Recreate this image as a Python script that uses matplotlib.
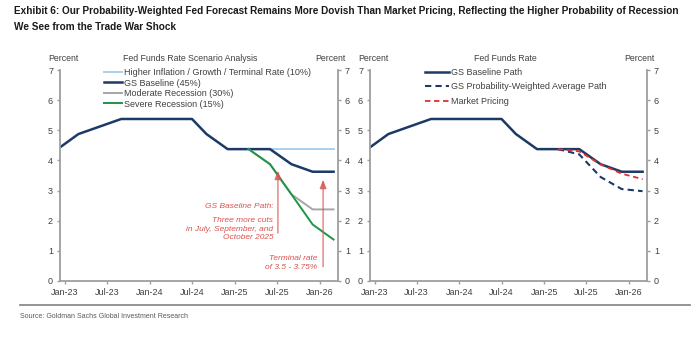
import matplotlib
matplotlib.use("Agg")
import matplotlib.pyplot as plt
import pandas as pd

plt.rcParams['font.family'] = ['Liberation Sans', 'DejaVu Sans']

# --- data ---
base_dates = ['2022-12-15', '2023-03-01', '2023-06-01', '2023-09-01', '2024-07-01',
              '2024-09-01', '2024-12-01', '2025-03-01', '2025-06-01', '2025-09-01',
              '2025-12-01', '2026-03-01']
gs_baseline = [4.45, 4.875, 5.125, 5.375, 5.375, 4.875, 4.375, 4.375, 4.375, 3.875, 3.625, 3.625]

scen_dates = ['2025-03-01', '2025-06-01', '2025-09-01', '2025-12-01', '2026-03-01']
higher_infl = [4.375, 4.375, 4.375, 4.375, 4.375]
moderate_rec = [4.375, 3.875, 2.875, 2.375, 2.375]
severe_rec = [4.375, 3.875, 2.875, 1.875, 1.375]

prob_weighted = [4.375, 4.2, 3.45, 3.05, 2.98]
market_pricing = [4.375, 4.3, 3.87, 3.56, 3.38]

tick_dates = ['2023-01-01', '2023-07-01', '2024-01-01', '2024-07-01',
              '2025-01-01', '2025-07-01', '2026-01-01']
tick_labels = ['Jan-23', 'Jul-23', 'Jan-24', 'Jul-24', 'Jan-25', 'Jul-25', 'Jan-26']

bd = pd.to_datetime(base_dates)
sd = pd.to_datetime(scen_dates)

NAVY = '#1b3a66'
LBLUE = '#a9d0ee'
GRAY = '#a6a6a6'
GREEN = '#1f9447'
RED = '#e0302a'
ANN = '#d9534f'
AX = '#9e9e9e'
TXT = '#404040'

fig = plt.figure(figsize=(7, 3.4), dpi=100)


def style(ax, title, title_x):
    ax.set_xlim(pd.Timestamp('2022-12-12'), pd.Timestamp('2026-03-20'))
    ax.set_ylim(0, 7)
    ax.set_yticks(range(0, 8))
    ax.set_xticks(pd.to_datetime(tick_dates))
    ax.set_xticklabels(tick_labels)
    ax.spines['top'].set_visible(False)
    for s in ('left', 'right', 'bottom'):
        ax.spines[s].set_color(AX)
        ax.spines[s].set_linewidth(1.3)
    ax.tick_params(axis='both', colors=AX, labelcolor=TXT, labelsize=6.5,
                   length=2.5, width=1, pad=2.5)
    ax.tick_params(axis='y', right=True, labelright=True)
    w = ax.get_position().width * 700
    ax.text(3 / w, 1.035, 'Percent', transform=ax.transAxes, ha='center',
            va='bottom', fontsize=6.3, color=TXT)
    ax.text(1 - 8 / w, 1.035, 'Percent', transform=ax.transAxes, ha='center',
            va='bottom', fontsize=6.3, color=TXT)
    ax.text(title_x, 1.035, title, transform=ax.transAxes, ha='center',
            va='bottom', fontsize=6.3, color=TXT)


# left panel: scenarios
ax1 = fig.add_axes([60 / 700, 59 / 340, 278 / 700, 211 / 340])
ax1.plot(sd[1:], higher_infl[1:], color=LBLUE, lw=1.4,
         label='Higher Inflation / Growth / Terminal Rate (10%)')
ax1.plot(bd, gs_baseline, color=NAVY, lw=1.8, label='GS Baseline (45%)')
ax1.plot(sd, moderate_rec, color=GRAY, lw=1.4, label='Moderate Recession (30%)')
ax1.plot(sd, severe_rec, color=GREEN, lw=1.4, label='Severe Recession (15%)')
style(ax1, 'Fed Funds Rate Scenario Analysis', 0.47)
ax1.legend(loc='upper left', bbox_to_anchor=(0.14, 1.035), frameon=False,
           fontsize=6.5, handlelength=2.0, handletextpad=0.15,
           labelspacing=0.17, borderaxespad=0.2, labelcolor=TXT)

arrow_kw = dict(arrowstyle='-|>,head_length=0.5,head_width=0.2',
                color=ANN, lw=1.0, alpha=0.75)
ax1.annotate('', xy=(pd.Timestamp('2025-07-05'), 3.75),
             xytext=(pd.Timestamp('2025-07-05'), 1.5), arrowprops=arrow_kw)
ax1.annotate('', xy=(pd.Timestamp('2026-01-15'), 3.45),
             xytext=(pd.Timestamp('2026-01-15'), 0.38), arrowprops=arrow_kw)
ax1.text(pd.Timestamp('2025-06-15'), 2.47, 'GS Baseline Path:', ha='right',
         va='center', fontsize=6, style='italic', color=ANN)
ax1.text(pd.Timestamp('2025-06-15'), 1.72,
         'Three more cuts\nin July, September, and\nOctober 2025', ha='right',
         va='center', fontsize=6, style='italic', color=ANN, linespacing=1.3)
ax1.text(pd.Timestamp('2025-12-20'), 0.6, 'Terminal rate\nof 3.5 - 3.75%',
         ha='right', va='center', fontsize=6, style='italic', color=ANN,
         linespacing=1.3)

# right panel: fed funds rate paths
ax2 = fig.add_axes([370 / 700, 59 / 340, 277 / 700, 211 / 340])
ax2.plot(bd, gs_baseline, color=NAVY, lw=1.8, label='GS Baseline Path')
ax2.plot(sd, prob_weighted, color=NAVY, lw=1.5, ls=(0, (3, 2)),
         label='GS Probability-Weighted Average Path')
ax2.plot(sd, market_pricing, color=RED, lw=1.3, ls=(0, (3, 2)),
         label='Market Pricing')
style(ax2, 'Fed Funds Rate', 0.49)
ax2.legend(loc='upper left', bbox_to_anchor=(0.18, 1.035), frameon=False,
           fontsize=6.5, handlelength=2.65, handletextpad=0.15,
           labelspacing=0.6, borderaxespad=0.2, labelcolor=TXT)

title_font = dict(ha='left', va='center', fontsize=6.6, fontweight='bold',
                  family=['Liberation Sans Narrow', 'Liberation Sans', 'DejaVu Sans'],
                  color='#1a1a1a')
t1 = fig.text(14 / 700, 1 - 11 / 340,
              'Exhibit 6: Our Probability-Weighted Fed Forecast Remains More Dovish Than '
              'Market Pricing, Reflecting the Higher Probability of Recession',
              **title_font)
t2 = fig.text(14 / 700, 1 - 27 / 340, 'We See from the Trade War Shock', **title_font)

# size the title so its first line spans the same width as the reference
fig.canvas.draw()
tw = t1.get_window_extent().width
size = 6.6 * 670 / tw
t1.set_fontsize(size)
t2.set_fontsize(size)

fig.add_artist(plt.Line2D([20 / 700, 690 / 700], [1 - 305 / 340] * 2,
                          color='#8c8c8c', lw=1.3))
fig.text(20 / 700, 1 - 316 / 340, 'Source: Goldman Sachs Global Investment Research',
         ha='left', va='center', fontsize=5, color='#595959')

fig.savefig('out.png', dpi=100, facecolor='white')
